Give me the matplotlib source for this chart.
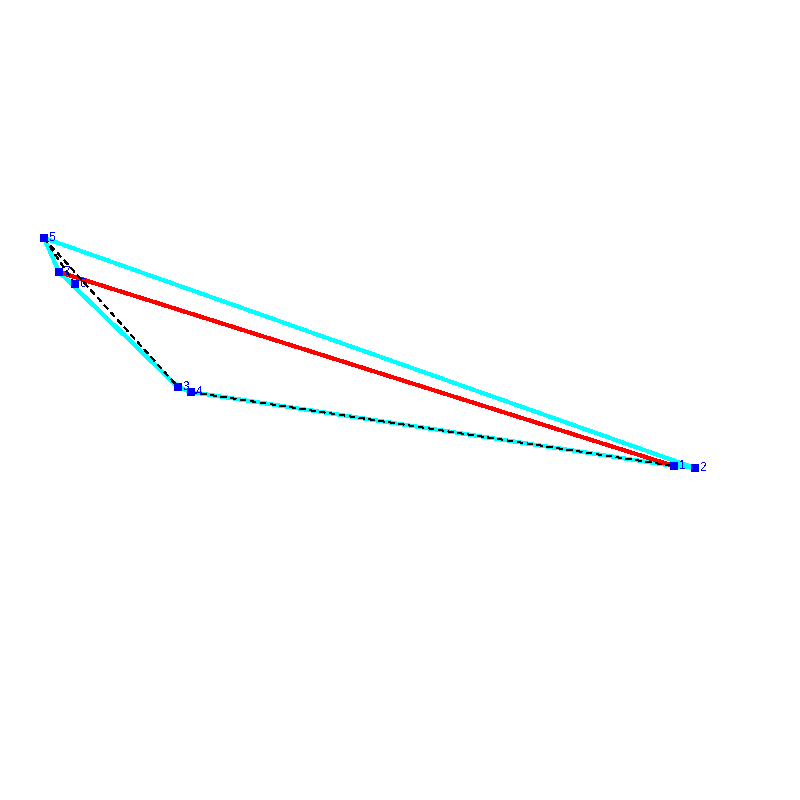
#!/usr/bin/env python3
"""Small labelled graph with cyan outline, red chord and dashed edges."""

import matplotlib
matplotlib.use('Agg')
import matplotlib.pyplot as plt

# node positions (pixels)
labels = ['1', '2', '3', '4', '5', '6', '7']
xs = [674, 695, 178, 191, 44, 75, 59]
ys = [466, 468, 387, 392, 238, 284, 272]

# edges as label pairs
cyan_edges = [('5', '7'), ('7', '3'), ('3', '4'), ('4', '1'), ('1', '2'), ('2', '5')]
red_edges = [('7', '1')]
dashed_edges = [('5', '3'), ('5', '6'), ('4', '1')]

plt.rcParams['text.antialiased'] = False
plt.rcParams['font.family'] = ['Liberation Sans', 'DejaVu Sans']

pos = dict(zip(labels, zip(xs, ys)))


def draw_edges(ax, edges, **style):
    for a, b in edges:
        ax.plot([pos[a][0], pos[b][0]], [pos[a][1], pos[b][1]],
                antialiased=False, **style)


fig = plt.figure(figsize=(8, 8), dpi=100)
ax = fig.add_axes([0, 0, 1, 1])
ax.set_xlim(0, 800)
ax.set_ylim(800, 0)
ax.axis('off')

draw_edges(ax, cyan_edges, color='#00ffff', linewidth=2.2, zorder=1)
draw_edges(ax, red_edges, color='#ff0000', linewidth=2.2, zorder=2)
draw_edges(ax, dashed_edges, color='black', linewidth=0.7,
           linestyle=(0, (6, 5)), zorder=3)

ax.scatter(xs, ys, s=34, marker='s', color='#0000ff', linewidths=0,
           antialiased=False, zorder=4)

for name, x, y in zip(labels, xs, ys):
    ax.text(x + 5, y, name, color='#0000ff', fontsize=8.5,
            ha='left', va='center', zorder=5)

fig.savefig('out.png', dpi=100)
